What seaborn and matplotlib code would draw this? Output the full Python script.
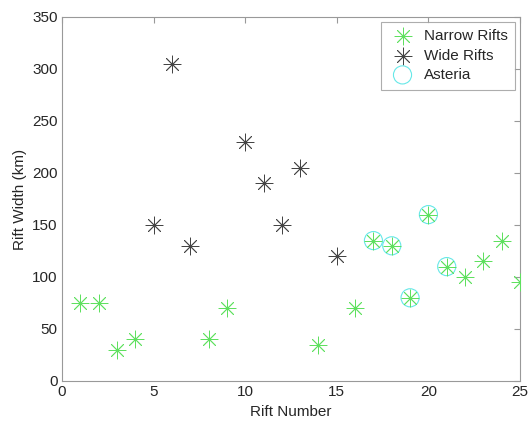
import matplotlib
matplotlib.use("Agg")
import matplotlib.pyplot as plt
import seaborn as sns

# rift data
narrow_x = [1, 2, 3, 4, 8, 9, 14, 16, 17, 18, 19, 20, 21, 22, 23, 24, 25]
narrow_y = [75, 75, 30, 40, 40, 70, 35, 70, 135, 130, 80, 160, 110, 100, 115, 135, 95]
wide_x = [5, 6, 7, 10, 11, 12, 13, 15]
wide_y = [150, 305, 130, 230, 190, 150, 205, 120]
asteria_x = [17, 18, 19, 20, 21]
asteria_y = [135, 130, 80, 160, 110]

sns.set_style("white")
plt.rcParams['font.family'] = ['Liberation Sans', 'DejaVu Sans']

fig = plt.figure(figsize=(5.31, 4.21), dpi=100)
ax = fig.add_axes([62 / 531, 1 - 381 / 421, 458 / 531, 364 / 421])

star = (8, 2, 0)
green = "#5fe05f"
dark = "#444444"
cyan = "#66e8e8"
sns.scatterplot(x=asteria_x, y=asteria_y, ax=ax, marker="o", s=170,
                facecolor="none", edgecolor=cyan, linewidth=0.8,
                label="Asteria", zorder=2)
sns.scatterplot(x=narrow_x, y=narrow_y, ax=ax, marker=star, s=150,
                color=green, edgecolor=green, linewidth=0.6,
                label="Narrow Rifts", zorder=3)
sns.scatterplot(x=wide_x, y=wide_y, ax=ax, marker=star, s=150,
                color=dark, edgecolor=dark, linewidth=0.6,
                label="Wide Rifts", zorder=3)

ax.set_xlim(0, 25)
ax.set_ylim(0, 350)
ax.set_xticks(range(0, 26, 5))
ax.set_yticks(range(0, 351, 50))
ax.set_xlabel("Rift Number", fontsize=11)
ax.set_ylabel("Rift Width (km)", fontsize=11)
ax.tick_params(direction="in", top=True, right=True, length=4,
               color="#999999", labelsize=11, pad=3)
for sp in ax.spines.values():
    sp.set_color("#999999")
    sp.set_linewidth(0.8)

handles, labels = ax.get_legend_handles_labels()
order = [labels.index(n) for n in ["Narrow Rifts", "Wide Rifts", "Asteria"]]
leg = ax.legend([handles[i] for i in order], [labels[i] for i in order],
                loc="upper right", fontsize=11, frameon=True, fancybox=False,
                edgecolor="#999999", borderaxespad=0.3, handletextpad=0.5,
                handlelength=1.8, labelspacing=0.35, borderpad=0.5)
leg.get_frame().set_linewidth(0.8)

fig.savefig("out.png", dpi=100)
